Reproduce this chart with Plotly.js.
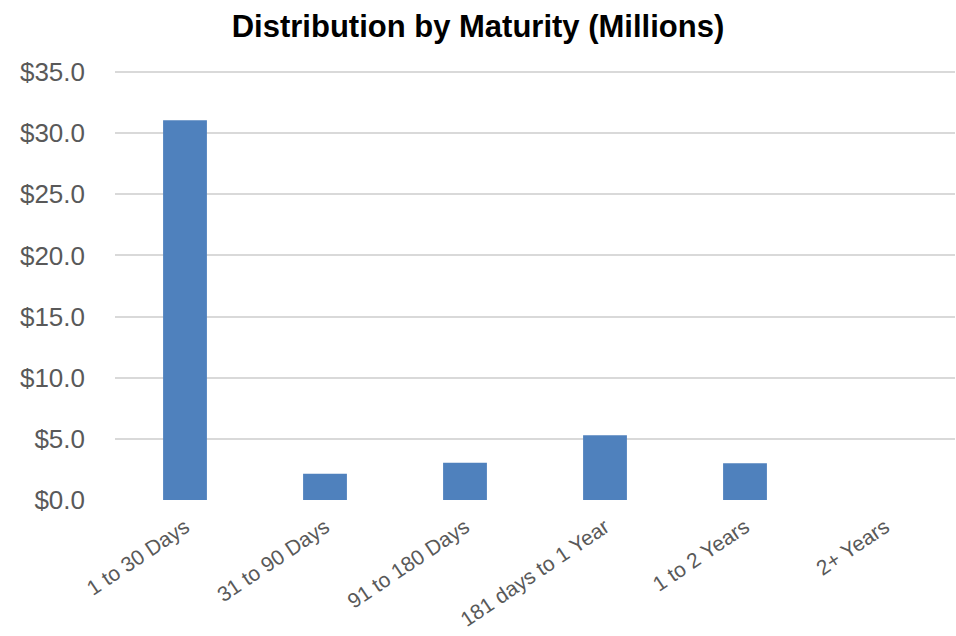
<!DOCTYPE html>
<html>
<head>
<meta charset="utf-8">
<script src="https://cdn.plot.ly/plotly-3.0.1.min.js"></script>
<style>
html,body{margin:0;padding:0;background:#fff;}
#chart{width:956px;height:636px;}
</style>
</head>
<body>
<div id="chart"></div>
<script>
const categories = ["1 to 30 Days", "31 to 90 Days", "91 to 180 Days", "181 days to 1 Year", "1 to 2 Years", "2+ Years"];
const values = [31.05, 2.15, 3.05, 5.29, 3.0, 0];
const yTicks = [0, 5, 10, 15, 20, 25, 30, 35];
const yTickLabels = ["$0.0", "$5.0", "$10.0", "$15.0", "$20.0", "$25.0", "$30.0", "$35.0"];

const trace = {
  type: 'bar',
  x: categories,
  y: values,
  marker: {color: '#4F81BD', line: {width: 0}},
  hoverinfo: 'none'
};

const layout = {
  width: 956,
  height: 636,
  paper_bgcolor: '#ffffff',
  plot_bgcolor: '#ffffff',
  margin: {l: 115, r: 1, t: 68, b: 136},
  bargap: 0.687,
  showlegend: false,
  font: {family: 'Liberation Sans, Arial, sans-serif', color: '#595959'},
  title: {
    text: '<b>Distribution by Maturity (Millions)</b>',
    font: {family: 'Liberation Sans, Arial, sans-serif', size: 31, color: '#000000'},
    x: 0.5, xref: 'container', xanchor: 'center',
    y: 0.976, yref: 'container', yanchor: 'top'
  },
  xaxis: {
    type: 'category',
    range: [-0.5, 5.5],
    tickangle: -34,
    tickfont: {size: 21, color: '#595959'},
    showgrid: false,
    zeroline: false,
    showline: false,
    ticks: '',
    ticklabelstandoff: 10
  },
  yaxis: {
    range: [0, 35.33],
    tickvals: yTicks,
    ticktext: yTickLabels,
    tickfont: {size: 26, color: '#595959'},
    showgrid: true,
    gridcolor: '#D9D9D9',
    gridwidth: 2,
    zeroline: false,
    showline: false,
    ticks: '',
    ticklabelstandoff: 29
  }
};

Plotly.newPlot('chart', [trace], layout, {displayModeBar: false, staticPlot: true});
</script>
</body>
</html>
